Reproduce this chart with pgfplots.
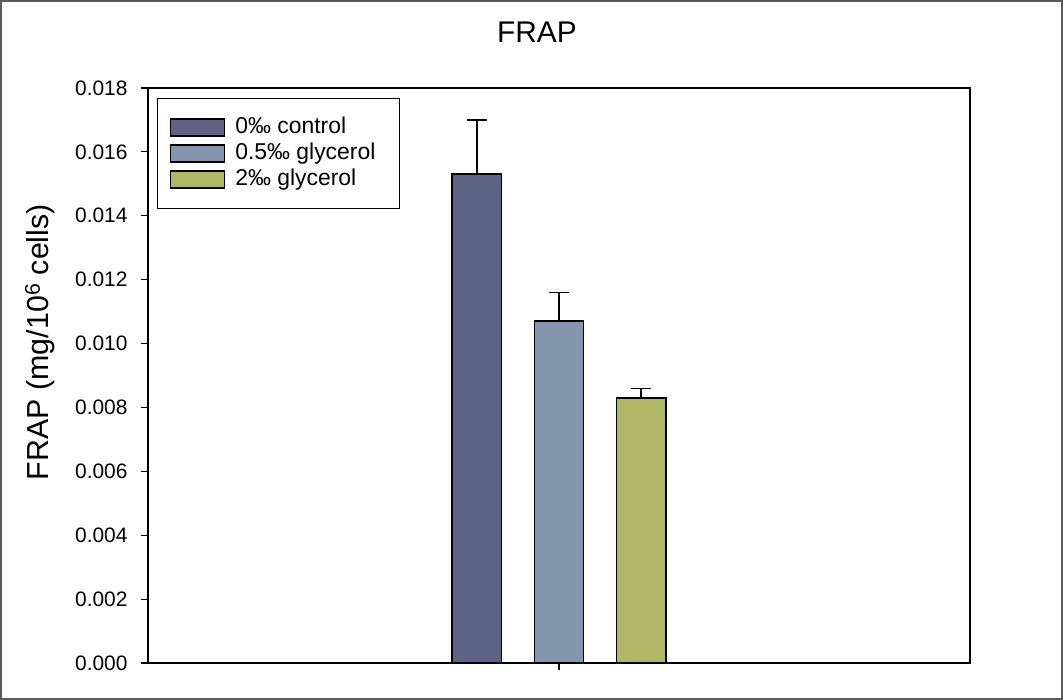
\documentclass[border=0pt]{standalone}
\usepackage{pgfplots}
\pgfplotsset{compat=1.18}
\usepackage{fontspec}
\setmainfont{Liberation Sans}
\definecolor{c1}{RGB}{94,99,133}
\definecolor{c2}{RGB}{132,150,173}
\definecolor{c3}{RGB}{175,182,100}
\definecolor{frame}{RGB}{90,90,90}
\begin{document}
\begin{tikzpicture}
\useasboundingbox (0bp,0bp) rectangle (1063bp,700bp);
\draw[frame, line width=1.5bp] (1bp,1bp) rectangle (1062bp,699bp);
\begin{axis}[
  at={(148bp,37bp)}, anchor=south west,
  scale only axis, width=822bp, height=575bp,
  xmin=0, xmax=10, ymin=0, ymax=0.018,
  xtick={5}, xticklabels={},
  ytick={0,0.002,0.004,0.006,0.008,0.010,0.012,0.014,0.016,0.018},
  yticklabel style={/pgf/number format/fixed, /pgf/number format/fixed zerofill, /pgf/number format/precision=3, xshift=-10bp},
  /pgf/number format/assume math mode=true,
  scaled y ticks=false,
  tick align=outside, ytick pos=left, xtick pos=bottom,
  major tick length=7bp,
  tick style={line width=1.2bp, black},
  axis line style={line width=1.5bp},
  tick label style={font=\fontsize{21}{25}\selectfont},
  title={FRAP},
  title style={at={(axis description cs:0.4732,1.087)}, anchor=center, font=\fontsize{30}{36}\selectfont},
  ylabel={FRAP (mg/10\textsuperscript{6} cells)},
  ylabel style={at={(axis description cs:-0.1314,0.558)}, anchor=center, font=\fontsize{30.5}{36}\selectfont},
  legend style={at={(axis description cs:0.0110,0.9826)}, anchor=north west, draw=black, line width=1.2bp,
    inner xsep=12bp, inner ysep=16.5bp, font=\fontsize{23}{27}\selectfont, row sep=1bp,
    nodes={inner sep=2.5bp, text height=16bp, text depth=4bp},
    /tikz/every odd column/.append style={column sep=8bp}},
  legend cell align=left,
]
\addplot[ybar, bar width=0.6, fill=c1, draw=black, line width=1.5bp,
  legend image code/.code={\draw[fill=c1, draw=black, line width=1.2bp] (0bp,-8.5bp) rectangle (54bp,8.5bp);},
  error bars/.cd, y dir=plus, y explicit,
  error bar style={line width=1.5bp, black},
  error mark options={rotate=90, mark size=10bp, line width=1.5bp, black}]
  coordinates {(4,0.0153) +- (0,0.0017)};
\addlegendentry{\makebox[150bp][l]{0‰ control}}
\addplot[ybar, bar width=0.6, fill=c2, draw=black, line width=1.5bp,
  legend image code/.code={\draw[fill=c2, draw=black, line width=1.2bp] (0bp,-8.5bp) rectangle (54bp,8.5bp);},
  error bars/.cd, y dir=plus, y explicit,
  error bar style={line width=1.5bp, black},
  error mark options={rotate=90, mark size=10bp, line width=1.5bp, black}]
  coordinates {(5,0.0107) +- (0,0.0009)};
\addlegendentry{\makebox[150bp][l]{0.5‰ glycerol}}
\addplot[ybar, bar width=0.6, fill=c3, draw=black, line width=1.5bp,
  legend image code/.code={\draw[fill=c3, draw=black, line width=1.2bp] (0bp,-8.5bp) rectangle (54bp,8.5bp);},
  error bars/.cd, y dir=plus, y explicit,
  error bar style={line width=1.5bp, black},
  error mark options={rotate=90, mark size=10bp, line width=1.5bp, black}]
  coordinates {(6,0.0083) +- (0,0.0003)};
\addlegendentry{\makebox[150bp][l]{2‰ glycerol}}
\end{axis}
\end{tikzpicture}
\end{document}
